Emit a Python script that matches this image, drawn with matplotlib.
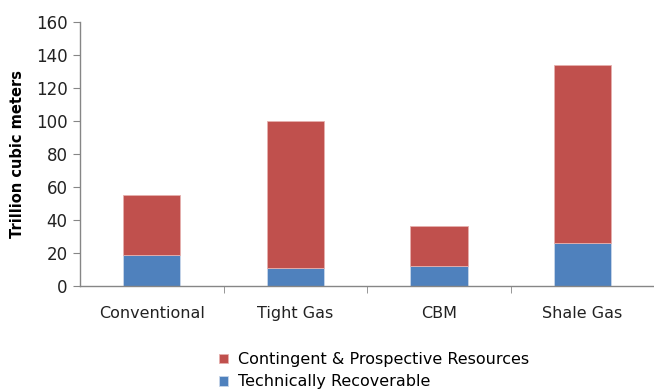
import numpy as np
import matplotlib.pyplot as plt

categories = ['Conventional', 'Tight Gas', 'CBM', 'Shale Gas']
recoverable = [19, 11, 12, 26]
contingent = [36.5, 89, 24.5, 108]

red = '#C0504D'
blue = '#4F81BD'
grey = '#868686'

plt.rcParams['font.family'] = 'DejaVu Sans'

fig = plt.figure(figsize=(6.54, 3.92), dpi=100)
ax = fig.add_axes([0.1223, 0.270, 0.878, 0.674])

x = np.arange(len(categories))
b1 = ax.bar(x, recoverable, width=0.4, color=blue, edgecolor='#c8d6ea', linewidth=0.6)
b2 = ax.bar(x, contingent, width=0.4, bottom=recoverable, color=red, edgecolor='#e6b0ae', linewidth=0.6)

ax.set_xlim(-0.5, len(categories) - 0.5)
ax.set_ylim(0, 160)
ax.set_yticks(range(0, 161, 20))
ax.set_xticks(x)
ax.set_xticklabels(categories, fontsize=11.5, color='#222222')
ax.set_xticks(np.arange(0.5, len(categories) - 0.5, 1), minor=True)
ax.tick_params(axis='x', which='major', length=0, pad=14)
ax.tick_params(axis='x', which='minor', length=5, color=grey, direction='out')
ax.tick_params(axis='y', length=5, color=grey, labelsize=12, labelcolor='#222222', pad=4)

for s in ['top', 'right']:
    ax.spines[s].set_visible(False)
for s in ['left', 'bottom']:
    ax.spines[s].set_color(grey)
    ax.spines[s].set_linewidth(1)

ax.set_ylabel('Trillion cubic meters', fontsize=10.5, fontweight='bold', labelpad=8)

fig.legend([b2, b1], ['Contingent & Prospective Resources', 'Technically Recoverable'],
           loc='upper left', bbox_to_anchor=(0.323, 0.122), frameon=False,
           fontsize=11.5, handlelength=0.55, handleheight=0.55, handletextpad=0.6,
           labelspacing=0.45, borderpad=0)

fig.savefig('out.png', dpi=100)
